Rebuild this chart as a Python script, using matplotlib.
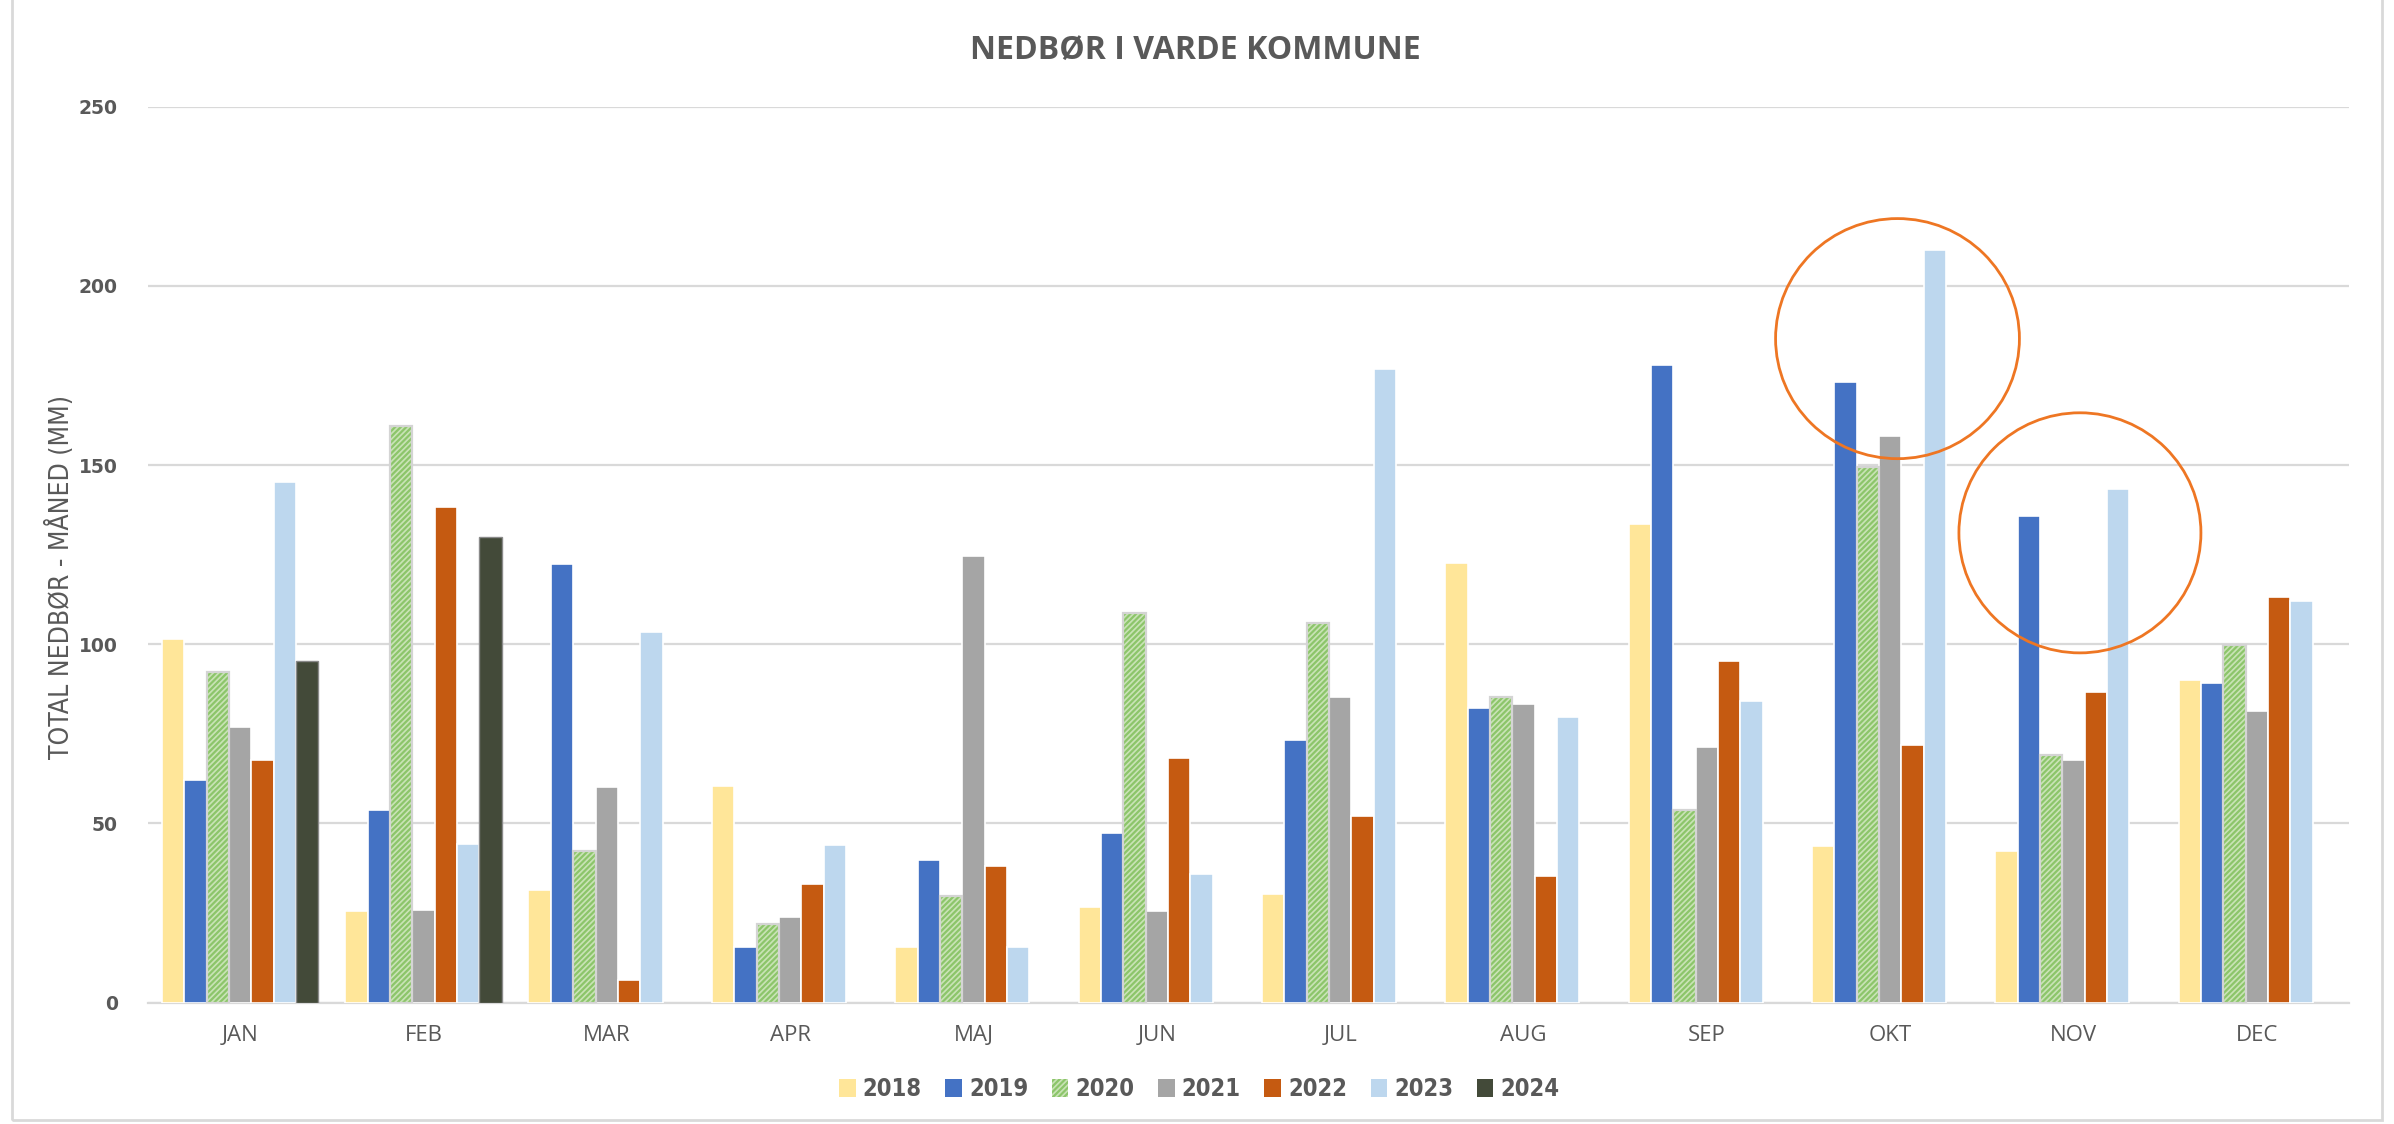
import matplotlib
matplotlib.use("Agg")
import matplotlib.pyplot as plt
from matplotlib.patches import Patch, Ellipse, Rectangle
from matplotlib.font_manager import FontProperties
import numpy as np

months = ["JAN", "FEB", "MAR", "APR", "MAJ", "JUN", "JUL", "AUG", "SEP", "OKT", "NOV", "DEC"]
years = ["2018", "2019", "2020", "2021", "2022", "2023", "2024"]

v2018 = [101.5, 25.5, 31.3, 60.4, 15.5, 26.8, 30.4, 122.7, 133.6, 43.6, 42.4, 90.1]
v2019 = [62.0, 53.8, 122.4, 15.5, 39.8, 47.2, 73.2, 82.2, 178.0, 173.2, 135.9, 89.3]
v2020 = [92.3, 160.9, 42.4, 22.0, 29.8, 108.7, 105.9, 85.2, 53.8, 149.5, 69.1, 99.7]
v2021 = [77.0, 25.8, 60.2, 24.0, 124.7, 25.5, 85.2, 83.2, 71.2, 158.1, 67.6, 81.3]
v2022 = [67.6, 138.3, 6.3, 33.2, 38.0, 68.4, 52.1, 35.2, 95.4, 71.9, 86.8, 113.3]
v2023 = [145.2, 44.4, 103.5, 44.1, 15.5, 35.9, 176.8, 79.6, 84.2, 210.0, 143.3, 112.2]
v2024 = [95.4, 129.8, None, None, None, None, None, None, None, None, None, None]

series = [v2018, v2019, v2020, v2021, v2022, v2023, v2024]
colors = ["#FFE699", "#4472C4", "#C9E3B6", "#A5A5A5", "#C55A11", "#BDD7EE", "#434A39"]
hatch_green = "#8CC56A"

yticks = [0, 50, 100, 150, 200, 250]
title = "NEDBØR I VARDE KOMMUNE"
ylabel = "TOTAL NEDBØR - MÅNED (MM)"

# annotation circles (centre month-position, centre value, half-width in months, half-height in mm)
circles = [(9.04, 185.3, 0.665, 33.5), (10.035, 131.1, 0.66, 33.5)]

text_gray = "#595959"
grid_gray = "#D9D9D9"

plt.rcParams["hatch.linewidth"] = 1.6

fig = plt.figure(figsize=(23.94, 11.24), dpi=100)
ax = fig.add_axes([0.062, 0.108, 0.919, 0.797])

x = np.arange(len(months))
slot = 0.122
n = len(series)
for k, (vals, col) in enumerate(zip(series, colors)):
    xs = [xi + (k - (n - 1) / 2) * slot for xi, v in zip(x, vals) if v is not None]
    ys = [v for v in vals if v is not None]
    if years[k] == "2020":
        ax.bar(xs, ys, slot, color=col, edgecolor=hatch_green, hatch="//////", linewidth=0, zorder=3)
        ax.bar(xs, ys, slot, fill=False, edgecolor="#D4D4D4", linewidth=1.6, zorder=4)
    elif years[k] == "2024":
        ax.bar(xs, ys, slot, color=col, edgecolor="#8A8A8A", linewidth=1.0, zorder=3)
    else:
        ax.bar(xs, ys, slot, color=col, edgecolor="white", linewidth=1.2, zorder=3)

for cx, cy, rx, ry in circles:
    ax.add_patch(Ellipse((cx, cy), 2 * rx, 2 * ry, fill=False, edgecolor="#EE7623", linewidth=2.0, zorder=5))

ax.set_xlim(-0.5, len(months) - 0.5)
ax.set_ylim(0, 250)
ax.set_yticks(yticks)
ax.set_yticklabels([str(t) for t in yticks], fontsize=13.5, fontweight="bold", color=text_gray, family="DejaVu Sans")
ax.set_xticks(x)
ax.set_xticklabels(months, fontsize=16, color=text_gray, family=["Open Sans", "DejaVu Sans"])
ax.tick_params(axis="both", length=0)
ax.tick_params(axis="y", pad=22)
ax.tick_params(axis="x", pad=16)
ax.grid(axis="y", color=grid_gray, linewidth=1.6, zorder=0)
ax.set_axisbelow(True)
for s in ["top", "right", "left"]:
    ax.spines[s].set_visible(False)
ax.spines["bottom"].set_color(grid_gray)
ax.spines["bottom"].set_linewidth(1.6)

cond = FontProperties(family="DejaVu Sans", stretch="condensed", size=19)
fig.text(0.0251, 0.4867, ylabel, rotation=90, ha="center", va="center", fontproperties=cond, color=text_gray)
fig.text(0.4994, 0.955, title, ha="center", va="center", fontsize=23, fontweight="bold",
         color=text_gray, family=["Open Sans", "DejaVu Sans"])

handles = []
for yr, col in zip(years, colors):
    if yr == "2020":
        handles.append(Patch(facecolor=col, edgecolor=hatch_green, hatch="//////", linewidth=0))
    else:
        handles.append(Patch(facecolor=col, edgecolor="none"))
legprop = FontProperties(family="DejaVu Sans", stretch="condensed", weight="bold", size=17)
leg = fig.legend(handles, years, loc="center", bbox_to_anchor=(0.501, 0.031), ncol=7, frameon=False,
                 prop=legprop, labelcolor=text_gray,
                 handlelength=0.7, handleheight=0.8, handletextpad=0.3, columnspacing=1.0)

fig.patches.append(Rectangle((0.005, 0.004), 0.99, 1.2, transform=fig.transFigure, fill=False,
                             edgecolor="#D9D9D9", linewidth=2.0))

fig.savefig("out.png", dpi=100)
